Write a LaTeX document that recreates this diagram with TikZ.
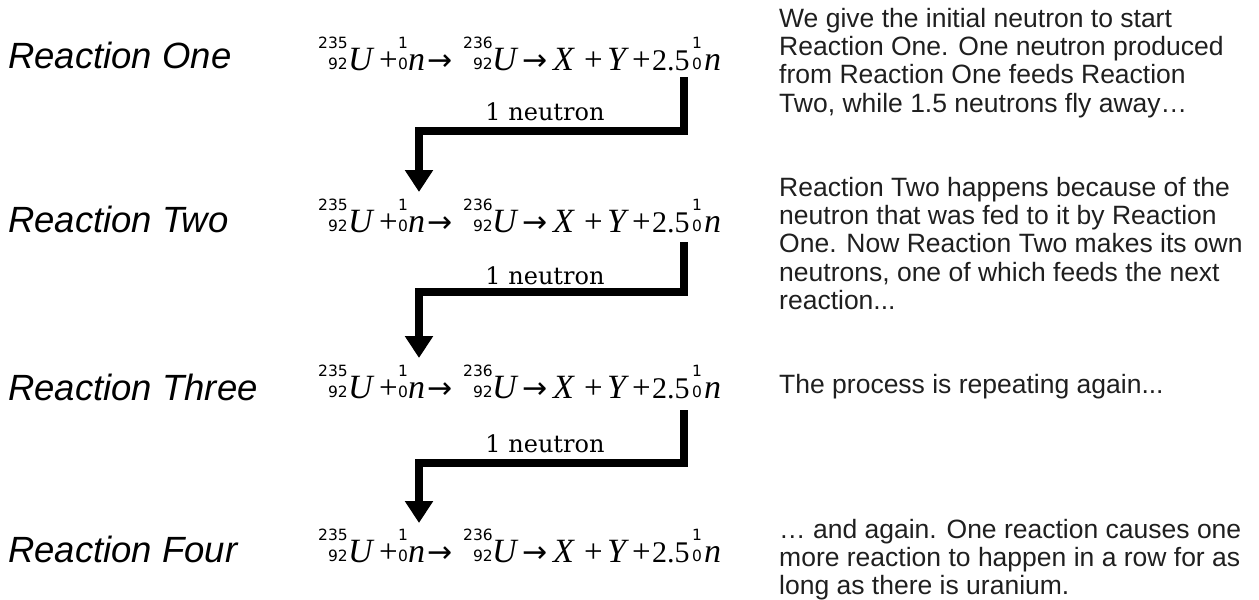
\documentclass[tikz,border=0pt]{standalone}
\usepackage{fontspec}
\setmainfont{Liberation Sans}
\newfontfamily\eqserif{Liberation Serif}
\newfontfamily\djsans{DejaVu Sans}
\newfontfamily\djserif{DejaVu Serif}
\usetikzlibrary{arrows.meta}

\newcommand\scrf{\djsans\fontsize{15.5}{15.5}\selectfont}
\newcommand\pre[2]{\setbox0=\hbox{\scrf #1}\setbox2=\hbox{\scrf #2}%
  \ifdim\wd0>\wd2 \dimen0=\wd0 \else \dimen0=\wd2 \fi
  \hbox to\dimen0{\hss\raise 22pt\box0}\kern-\dimen0
  \hbox to\dimen0{\hss\raise 1pt\box2}}
\newcommand\at[2]{\rlap{\hskip#1pt #2}}
\newcommand\vI[1]{{\eqserif\itshape\fontsize{34}{34}\selectfont #1}}
\newcommand\op[1]{{\eqserif\fontsize{33}{33}\selectfont #1}}
\newcommand\arr{{\djsans\fontsize{30}{30}\selectfont →}}
\newcommand\eqline{\hbox{%
  \at{1}{\pre{235}{92}}%
  \at{31}{\vI{U}}%
  \at{62}{\op{+}}%
  \at{81}{\pre{1}{0}}%
  \at{91}{\vI{n}}%
  \at{110}{\arr}%
  \at{146}{\pre{236}{92}}%
  \at{175}{\vI{U}}%
  \at{205}{\arr}%
  \at{236}{\vI{X}}%
  \at{267}{\op{+}}%
  \at{290}{\vI{Y}}%
  \at{315}{\op{+}}%
  \at{335}{{\eqserif\fontsize{30}{30}\selectfont 2.5}}%
  \at{375}{\pre{1}{0}}%
  \at{387}{\vI{n}}%
  \hskip413pt}}

\tikzset{
  lab/.style={anchor=base west, inner sep=0pt, font=\itshape\fontsize{36.5}{36.5}\selectfont},
  eqn/.style={anchor=base west, inner sep=0pt},
  neut/.style={anchor=base, inner sep=0pt, font=\djserif\fontsize{24}{24}\selectfont},
  expl/.style={anchor=base west, inner sep=0pt, text=black!88, font=\fontsize{26.5}{28.4}\selectfont},
  feed/.style={line width=8pt, line join=miter, -{Triangle[width=27pt,length=22pt]}}
}
\newcommand\blk[1]{\vtop{\baselineskip=28.4pt #1}}

\begin{document}
\begin{tikzpicture}[x=1pt,y=-1pt]
\useasboundingbox (0,0) rectangle (1259,600);

\node[lab] (l1) at (8,68) {Reaction One};
\node[lab] (l2) at (8,232) {Reaction Two};
\node[lab] (l3) at (8,400) {Reaction Three};
\node[lab] (l4) at (8,562) {Reaction Four};

\node[eqn] (e1) at (317,70) {\eqline};
\node[eqn] (e2) at (317,232) {\eqline};
\node[eqn] (e3) at (317,398) {\eqline};
\node[eqn] (e4) at (317,562) {\eqline};

\node[neut] (n1) at (545,120) {1 neutron};
\node[neut] (n2) at (545,284) {1 neutron};
\node[neut] (n3) at (545,452) {1 neutron};

\coordinate (s1) at (684,77);  \coordinate (k1) at (684,131); \coordinate (t1) at (419,192);
\coordinate (s2) at (684,242); \coordinate (k2) at (684,292); \coordinate (t2) at (419,358);
\coordinate (s3) at (684,410); \coordinate (k3) at (684,463); \coordinate (t3) at (419,523);
\draw[feed] (s1) -- (k1) -| (t1);
\draw[feed] (s2) -- (k2) -| (t2);
\draw[feed] (s3) -- (k3) -| (t3);

\node[expl] (x1) at (779,27) {\blk{\hbox{We give the initial neutron to start}\hbox{Reaction One. One neutron produced}\hbox{from Reaction One feeds Reaction}\hbox{Two, while 1.5 neutrons fly away…}}};
\node[expl] (x2) at (779,196) {\blk{\hbox{Reaction Two happens because of the}\hbox{neutron that was fed to it by Reaction}\hbox{One. Now Reaction Two makes its own}\hbox{neutrons, one of which feeds the next}\hbox{reaction...}}};
\node[expl] (x3) at (779,393) {The process is repeating again...};
\node[expl] (x4) at (779,538) {\blk{\hbox{… and again. One reaction causes one}\hbox{more reaction to happen in a row for as}\hbox{long as there is uranium.}}};
\end{tikzpicture}
\end{document}
